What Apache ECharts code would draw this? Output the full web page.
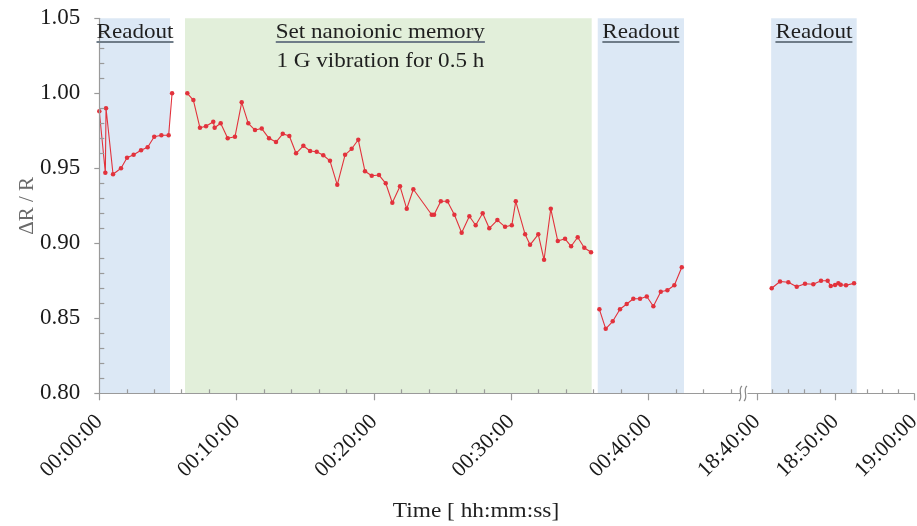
<!DOCTYPE html>
<html><head><meta charset="utf-8">
<script src="https://cdn.jsdelivr.net/npm/echarts@6/dist/echarts.min.js"></script>
<style>html,body{margin:0;padding:0;background:#fff}#c{width:917px;height:526px}</style>
</head><body><div id="c"></div>
<script>
// ---- data (time in minutes) ----
const readout1Time  = [0, 0.44, 0.49, 1.0, 1.58, 2.02, 2.5, 3.04, 3.52, 4.0, 4.52, 5.05, 5.3];
const readout1Value = [0.988, 0.947, 0.990, 0.946, 0.950, 0.957, 0.959, 0.962, 0.964, 0.971, 0.972, 0.972, 1.000];

const vibrationTime  = [6.41, 6.85, 7.33, 7.77, 8.30, 8.40, 8.84, 9.35, 9.88, 10.37, 10.85, 11.34, 11.83, 12.36, 12.87, 13.36, 13.84, 14.33, 14.86, 15.35, 15.83, 16.31, 16.80, 17.33, 17.90, 18.38, 18.86, 19.35, 19.84, 20.37, 20.86, 21.34, 21.90, 22.39, 22.87, 24.21, 24.38, 24.87, 25.35, 25.86, 26.39, 26.95, 27.41, 27.92, 28.40, 28.99, 29.55, 30.04, 30.33, 31.01, 31.37, 31.97, 32.39, 32.88, 33.39, 33.92, 34.36, 34.84, 35.32, 35.81];
const vibrationValue = [1.000, 0.9955, 0.977, 0.978, 0.981, 0.977, 0.980, 0.970, 0.971, 0.994, 0.980, 0.9755, 0.9765, 0.970, 0.9675, 0.973, 0.9715, 0.960, 0.965, 0.9615, 0.961, 0.9587, 0.955, 0.939, 0.959, 0.963, 0.969, 0.948, 0.945, 0.9455, 0.940, 0.927, 0.938, 0.923, 0.936, 0.919, 0.919, 0.928, 0.928, 0.919, 0.907, 0.918, 0.912, 0.920, 0.910, 0.9155, 0.911, 0.912, 0.928, 0.906, 0.899, 0.906, 0.889, 0.923, 0.9015, 0.903, 0.898, 0.904, 0.897, 0.894];

const readout2Time  = [36.42, 36.88, 37.39, 37.92, 38.41, 38.89, 39.38, 39.87, 40.35, 40.89, 41.37, 41.88, 42.42];
const readout2Value = [0.856, 0.843, 0.848, 0.856, 0.8595, 0.863, 0.863, 0.8645, 0.858, 0.8677, 0.8687, 0.872, 0.884];

const readout3Time  = [1121.87, 1122.93, 1123.99, 1125.06, 1126.11, 1127.17, 1128.15, 1129.0, 1129.39, 1129.94, 1130.36, 1130.66, 1131.34, 1132.36];
const readout3Value = [0.870, 0.8745, 0.874, 0.871, 0.873, 0.8727, 0.875, 0.875, 0.8715, 0.8722, 0.8733, 0.8724, 0.872, 0.8733];

// phases (minutes)
const phaseLabels = ['Readout', 'Set nanoionic memory', 'Readout', 'Readout'];
const phaseStart  = [0.05, 6.24, 36.3, 1121.8];
const phaseEnd    = [5.15, 35.86, 42.58, 1132.7];
const phaseSubLabel = '1 G vibration for 0.5 h';

// ticks
const leftMajorTicks  = [0, 10, 20, 30, 40];
const leftTickLabels  = ['00:00:00', '00:10:00', '00:20:00', '00:30:00', '00:40:00'];
const leftMinorTicks  = [2, 4, 6, 8, 12, 14, 16, 18, 22, 24, 26, 28, 32, 34, 36, 38, 42, 44, 46];
const rightMajorTicks = [1120, 1130, 1140];
const rightTickLabels = ['18:40:00', '18:50:00', '19:00:00'];
const rightMinorTicks = [1122, 1124, 1126, 1128, 1132, 1134, 1136, 1138];
const yMajorTicks = [0.80, 0.85, 0.90, 0.95, 1.00, 1.05];
const yTickLabels = ['0.80', '0.85', '0.90', '0.95', '1.00', '1.05'];
const yMinorTicks = [0.81,0.82,0.83,0.84,0.86,0.87,0.88,0.89,0.91,0.92,0.93,0.94,0.96,0.97,0.98,0.99,1.01,1.02,1.03,1.04];

// ---- styles ----
const SERIF = '"Liberation Serif", "DejaVu Serif", serif';
const AXIS = '#9a9a9a';
const RED = '#e2323c';
const BLUE = '#dce8f5';
const GREEN = '#e2efda';

const zip = (a, b) => a.map((t, i) => [t, b[i]]);
const lookup = (vals, labels) => v => { const i = vals.findIndex(x => Math.abs(x - v) < 1e-6); return i < 0 ? '' : labels[i]; };

const chart = echarts.init(document.getElementById('c'));

function majorX(grid, min, max, ticks, labels) {
  return {
    type: 'value', gridIndex: grid, min: min, max: max, position: 'bottom', z: 6,
    axisLine: { show: true, onZero: false, lineStyle: { color: AXIS, width: 1.2 } },
    axisTick: { show: true, inside: false, length: 7, customValues: ticks, lineStyle: { color: AXIS, width: 1.2 } },
    axisLabel: { customValues: ticks, formatter: lookup(ticks, labels), rotate: 45, margin: 25,
                 fontFamily: SERIF, fontSize: 22, color: '#1a1a1a' },
    splitLine: { show: false }
  };
}
function minorX(grid, min, max, ticks) {
  return {
    type: 'value', gridIndex: grid, min: min, max: max, position: 'bottom', z: 6,
    axisLine: { show: false },
    axisTick: { show: true, inside: true, length: 4, customValues: ticks, lineStyle: { color: AXIS, width: 1.2 } },
    axisLabel: { show: false }, splitLine: { show: false }
  };
}
function band(i, color) {
  return { silent: true, itemStyle: { color: color }, label: { show: false },
           data: [[{ xAxis: phaseStart[i] }, { xAxis: phaseEnd[i] }]] };
}
function lineSeries(name, xi, yi, data, area) {
  return {
    name: name, type: 'line', xAxisIndex: xi, yAxisIndex: yi, data: data,
    symbol: 'circle', symbolSize: 4.5, showSymbol: true,
    lineStyle: { color: RED, width: 1.1 }, itemStyle: { color: RED },
    markArea: area, z: 2
  };
}

const leftMax = 46.66, rightMin = 1118.85, rightMax = 1140;

chart.setOption({
  animation: false,
  backgroundColor: '#fff',
  grid: [
    { left: 99.3, top: 18.3, width: 640.7, height: 375, outerBoundsMode: 'none', containLabel: false },
    { left: 748, top: 18.3, width: 166, height: 375, outerBoundsMode: 'none', containLabel: false }
  ],
  xAxis: [
    majorX(0, 0, leftMax, leftMajorTicks, leftTickLabels),
    minorX(0, 0, leftMax, leftMinorTicks),
    majorX(1, rightMin, rightMax, rightMajorTicks, rightTickLabels),
    minorX(1, rightMin, rightMax, rightMinorTicks)
  ],
  yAxis: [
    { type: 'value', gridIndex: 0, min: 0.8, max: 1.05, position: 'left', z: 6,
      name: 'ΔR / R', nameLocation: 'middle', nameGap: 61, nameMoveOverlap: false,
      nameTextStyle: { fontFamily: SERIF, fontSize: 21, color: '#6a6a6a' },
      axisLine: { show: true, lineStyle: { color: AXIS, width: 1.2 } },
      axisTick: { show: true, inside: false, length: 5, customValues: yMajorTicks, lineStyle: { color: AXIS, width: 1.2 } },
      axisLabel: { customValues: yMajorTicks, formatter: lookup(yMajorTicks, yTickLabels), margin: 19,
                   fontFamily: SERIF, fontSize: 23, color: '#1a1a1a' },
      splitLine: { show: false } },
    { type: 'value', gridIndex: 0, min: 0.8, max: 1.05, position: 'left', z: 6,
      axisLine: { show: false },
      axisTick: { show: true, inside: true, length: 5, customValues: yMinorTicks, lineStyle: { color: AXIS, width: 1.2 } },
      axisLabel: { show: false }, splitLine: { show: false } },
    { type: 'value', gridIndex: 1, min: 0.8, max: 1.05, show: false }
  ],
  series: [
    lineSeries('r1', 0, 0, zip(readout1Time, readout1Value), band(0, BLUE)),
    lineSeries('vib', 0, 0, zip(vibrationTime, vibrationValue), band(1, GREEN)),
    lineSeries('r2', 0, 0, zip(readout2Time, readout2Value), band(2, BLUE)),
    lineSeries('r3', 2, 2, zip(readout3Time, readout3Value), band(3, BLUE))
  ]
});

// ---- annotations ----
const ctx = document.createElement('canvas').getContext('2d');
function textW(str, size) { ctx.font = size + 'px ' + SERIF; return ctx.measureText(str).width; }
const els = [];
const FS = 21, SX = 1.1;
function addText(str, cx, yMid, underline) {
  els.push({ type: 'text', x: cx, y: yMid, scaleX: SX, z: 10,
    style: { text: str, x: 0, y: 0, align: 'center', verticalAlign: 'middle',
             font: FS + 'px ' + SERIF, fill: '#1f1f1f' } });
  if (underline) {
    const w = textW(str, FS) * SX;
    els.push({ type: 'rect', z: 10, shape: { x: cx - w / 2, y: yMid + 9, width: w, height: 2 },
               style: { fill: '#6f7c88' } });
  }
}
for (let i = 0; i < phaseLabels.length; i++) {
  const xi = i === 3 ? 2 : 0;
  let cx = chart.convertToPixel({ xAxisIndex: xi }, (phaseStart[i] + phaseEnd[i]) / 2);
  if (i === 1) cx -= 8;
  addText(phaseLabels[i], cx, 32, true);
  if (i === 1) addText(phaseSubLabel, cx, 61, false);
}
// x axis title
els.push({ type: 'text', x: 476, y: 511, scaleX: 1.06, z: 10,
  style: { text: 'Time [ hh:mm:ss]', x: 0, y: 0, align: 'center', verticalAlign: 'middle',
           font: '22px ' + SERIF, fill: '#1f1f1f' } });
// axis break marks
[739, 744].forEach(bx => {
  els.push({ type: 'bezierCurve', z: 10,
    shape: { x1: bx, y1: 401, x2: bx + 3, y2: 386, cpx1: bx + 5, cpy1: 397, cpx2: bx - 2, cpy2: 390 },
    style: { stroke: '#888', lineWidth: 1.2, fill: null } });
});
chart.setOption({ graphic: els });
</script></body></html>
